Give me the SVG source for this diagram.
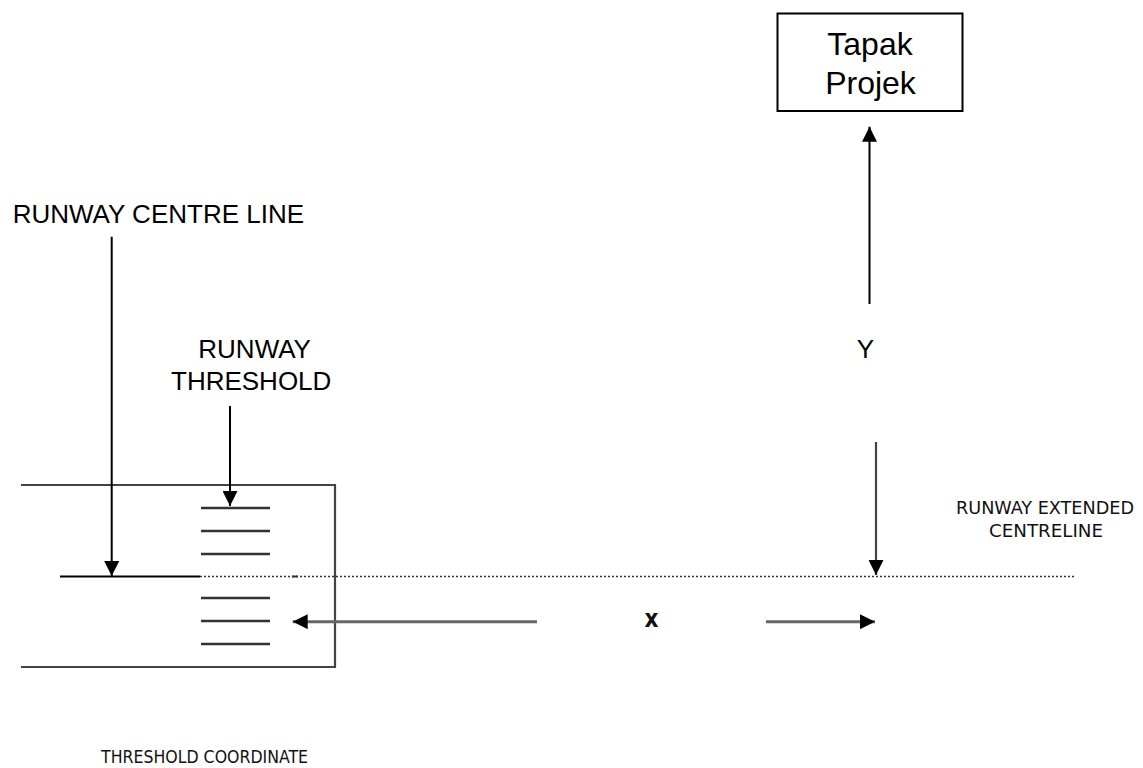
<svg xmlns="http://www.w3.org/2000/svg" width="1143" height="768" viewBox="0 0 1143 768">
<style>
.lbl{font-family:"Liberation Sans",Arial,sans-serif;font-size:26px;fill:#000}
.big{font-size:32px}
.sm{font-family:"DejaVu Sans","Liberation Sans",sans-serif;font-stretch:condensed;font-size:18px;fill:#111}
.blk{stroke:#000;stroke-width:2;fill:none}
.gry{stroke:#444;stroke-width:2.2;fill:none}
.gry3{stroke:#666;stroke-width:3;fill:none}
.bar{stroke:#333;stroke-width:2.5;fill:none}
</style>
<defs>
<marker id="ah" markerUnits="userSpaceOnUse" markerWidth="15" markerHeight="15" refX="15" refY="7.5" orient="auto">
<path d="M0,0 L15,7.5 L0,15 z" fill="#000"/>
</marker>
</defs>
<rect width="1143" height="768" fill="#fff"/>
<g id="runway">
<path class="gry" d="M21,485 H335 V667 H21"/>
<g id="threshold-bars">
<line class="bar" x1="201" y1="508" x2="270" y2="508"/>
<line class="bar" x1="201" y1="531" x2="270" y2="531"/>
<line class="bar" x1="201" y1="554" x2="270" y2="554"/>
<line class="bar" x1="201" y1="598" x2="270" y2="598"/>
<line class="bar" x1="201" y1="621" x2="270" y2="621"/>
<line class="bar" x1="201" y1="644" x2="270" y2="644"/>
</g>
<line x1="60" y1="576.5" x2="200" y2="576.5" stroke="#000" stroke-width="2"/>
<line x1="200" y1="576.5" x2="1076" y2="576.5" stroke="#333" stroke-width="1.5" stroke-dasharray="2,2"/>
<line x1="292" y1="576.5" x2="298" y2="576.5" stroke="#333" stroke-width="2"/>
</g>
<g id="tapak-projek">
<rect x="777.5" y="13.5" width="185" height="97.5" fill="#fff" stroke="#000" stroke-width="2"/>
<text class="lbl big" x="870" y="55" text-anchor="middle">Tapak</text>
<text class="lbl big" x="870.5" y="93.5" text-anchor="middle">Projek</text>
</g>
<g id="labels">
<text class="lbl" x="12.7" y="223.3">RUNWAY CENTRE LINE</text>
<text class="lbl" x="198.3" y="358.3">RUNWAY</text>
<text class="lbl" x="171" y="390">THRESHOLD</text>
<text class="lbl" x="856.7" y="358.3">Y</text>
<text class="sm" x="1045" y="514" text-anchor="middle" textLength="178" lengthAdjust="spacingAndGlyphs">RUNWAY EXTENDED</text>
<text class="sm" x="1046" y="537" text-anchor="middle" textLength="114" lengthAdjust="spacingAndGlyphs">CENTRELINE</text>
<text class="sm" x="101" y="763" textLength="207" lengthAdjust="spacingAndGlyphs">THRESHOLD COORDINATE</text>
<text class="sm" x="651.5" y="626.5" text-anchor="middle" style="font-weight:bold;font-size:24px">x</text>
</g>
<g id="connectors">
<line class="blk" x1="111.7" y1="236.7" x2="111.7" y2="576" marker-end="url(#ah)"/>
<line class="blk" x1="230" y1="406" x2="230" y2="506" marker-end="url(#ah)"/>
<line class="blk" x1="869.5" y1="304" x2="869.5" y2="126.7" marker-end="url(#ah)"/>
<line class="gry" x1="876" y1="442" x2="876" y2="575" marker-end="url(#ah)"/>
<line class="gry3" x1="537" y1="621.7" x2="292.7" y2="621.7" marker-end="url(#ah)"/>
<line class="gry3" x1="766" y1="621.7" x2="875" y2="621.7" marker-end="url(#ah)"/>
</g>
</svg>
